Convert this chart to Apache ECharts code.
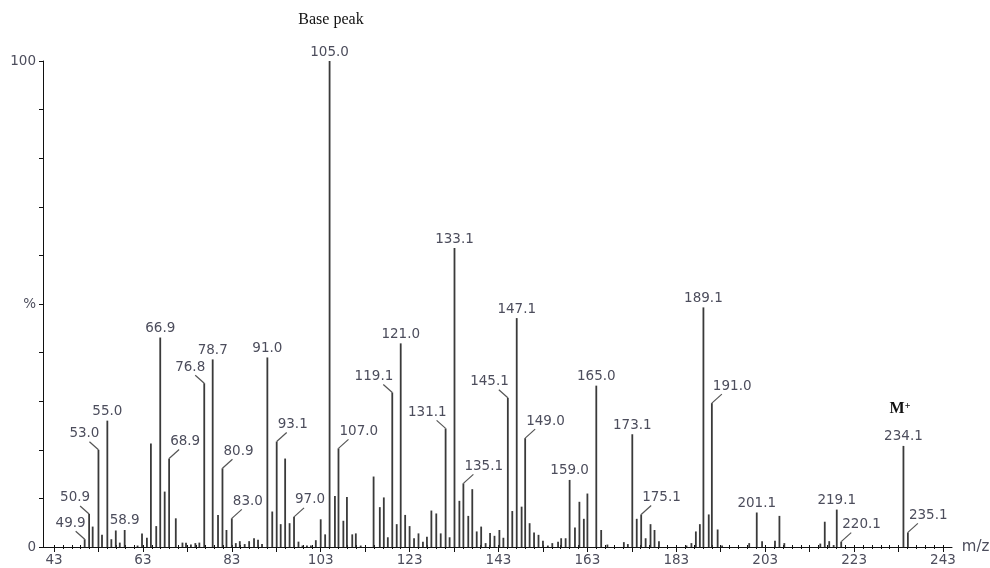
<!DOCTYPE html>
<html>
<head>
<meta charset="utf-8">
<script src="https://cdn.jsdelivr.net/npm/echarts@6/dist/echarts.min.js"></script>
<style>html,body{margin:0;padding:0;background:#fff}#c{width:990px;height:568px}</style>
</head>
<body>
<div id="c"></div>
<script>
// m/z positions of peaks
const peakMz = [49.9,50.9,51.7,53.0,53.8,55.0,55.9,56.9,57.8,58.9,61.8,62.8,63.9,64.8,66.0,66.9,67.9,68.9,70.4,71.9,72.7,73.8,74.8,75.7,76.8,78.7,79.9,80.9,81.8,83.0,83.9,84.8,85.9,86.9,88.0,88.9,89.8,91.0,92.1,93.1,94.0,95.0,96.0,97.0,98.0,98.9,99.9,100.8,101.9,103.0,104.0,105.0,106.2,107.0,108.1,108.9,110.1,110.9,112.0,114.9,116.3,117.2,118.1,119.1,120.1,121.0,122.0,123.0,124.0,125.0,126.0,126.9,127.9,129.0,130.0,131.1,132.0,133.1,134.2,135.1,136.2,137.1,138.1,139.1,140.1,141.1,142.1,143.2,144.1,145.1,146.1,147.1,148.2,149.0,150.0,151.0,152.0,153.0,154.1,155.1,156.4,157.1,158.1,159.0,160.2,161.2,162.2,163.0,165.0,166.1,167.5,171.2,172.1,173.1,174.1,175.1,176.1,177.2,178.1,179.1,185.3,186.4,187.4,188.3,189.1,190.3,191.0,192.3,193.3,199.4,201.1,202.3,205.2,206.2,207.3,215.4,216.4,217.4,218.4,219.1,220.1,234.1,235.1];
// relative intensities (%)
const peakInt = [1.6,6.8,4.2,20.0,2.5,26.0,1.6,3.4,0.9,3.5,0.3,2.8,1.9,21.3,4.3,43.1,11.4,18.2,5.9,0.9,0.9,0.5,0.8,0.9,33.7,38.6,6.6,16.2,3.5,5.9,0.8,1.2,0.6,1.2,1.8,1.5,0.6,39.0,7.3,21.7,4.7,18.2,4.9,6.2,1.1,0.3,0.3,0.3,1.4,5.7,2.6,100,10.5,20.3,5.4,10.3,2.6,2.8,0.3,14.5,8.2,10.2,2.0,31.8,4.7,41.9,6.6,4.3,1.8,2.8,1.1,2.1,7.5,6.9,2.8,24.4,2.0,61.5,9.5,13.1,6.4,11.9,3.2,4.2,0.8,2.9,2.3,3.5,1.9,30.7,7.4,47.1,8.3,22.4,4.9,3.0,2.5,1.3,0.3,0.8,1.1,1.8,1.8,13.8,4.0,9.3,5.8,11.0,33.2,3.5,0.5,1.0,0.6,23.2,5.8,6.7,1.8,4.7,3.5,1.2,0.3,0.8,3.2,4.7,49.3,6.7,29.6,3.6,0.3,0.8,7.1,1.2,1.3,6.4,0.8,0.7,5.2,1.2,0.4,7.7,1.1,20.8,3.0];
// labelled peaks
const labelMz   = [49.9,50.9,53.0,55.0,58.9,66.9,68.9,76.8,78.7,80.9,83.0,91.0,93.1,97.0,105.0,107.0,119.1,121.0,131.1,133.1,135.1,145.1,147.1,149.0,159.0,165.0,173.1,175.1,189.1,191.0,201.1,219.1,220.1,234.1,235.1];
const labelText = ['49.9','50.9','53.0','55.0','58.9','66.9','68.9','76.8','78.7','80.9','83.0','91.0','93.1','97.0','105.0','107.0','119.1','121.0','131.1','133.1','135.1','145.1','147.1','149.0','159.0','165.0','173.1','175.1','189.1','191.0','201.1','219.1','220.1','234.1','235.1'];
const labelSide = ['L','L','L','C','C','C','R','L','C','R','R','C','R','R','C','R','L','C','L','C','R','L','C','R','C','C','C','R','C','R','C','C','R','C','R'];
// axis ticks
const xLabelValues = [43,63,83,103,123,143,163,183,203,223,243];
const xMajorTicks = [43,53,63,73,83,93,103,113,123,133,143,153,163,173,183,193,203,213,223,233,243];
const xMinorTicks = [];
for (let v = 43; v <= 243; v += 2) xMinorTicks.push(v);

const data = peakMz.map((m, i) => [m, peakInt[i]]);
const FONT = '13.5px "DejaVu Sans", sans-serif';
const TXT = '#4c4d5c';

function renderItem(params, api) {
  const mz = api.value(0), v = api.value(1);
  const p0 = api.coord([mz, 0]);
  const p1 = api.coord([mz, v]);
  const children = [{
    type: 'line',
    shape: {x1: p0[0], y1: p0[1], x2: p1[0], y2: p1[1]},
    style: {stroke: '#3a3a3a', lineWidth: 1.8}
  }];
  const li = labelMz.indexOf(mz);
  if (li >= 0) {
    const side = labelSide[li];
    const t = labelText[li];
    if (side === 'C') {
      children.push({type: 'text', style: {text: t, x: p1[0], y: p1[1] - 2, textAlign: 'center', align: 'center', textVerticalAlign: 'bottom', verticalAlign: 'bottom', fill: TXT, font: FONT}});
    } else if (side === 'L') {
      children.push({type: 'line', shape: {x1: p1[0], y1: p1[1], x2: p1[0] - 9, y2: p1[1] - 8}, style: {stroke: '#555', lineWidth: 1.2}});
      children.push({type: 'text', style: {text: t, x: p1[0] + 1, y: p1[1] - 9, textAlign: 'right', align: 'right', textVerticalAlign: 'bottom', verticalAlign: 'bottom', fill: TXT, font: FONT}});
    } else {
      children.push({type: 'line', shape: {x1: p1[0], y1: p1[1], x2: p1[0] + 10, y2: p1[1] - 9}, style: {stroke: '#555', lineWidth: 1.2}});
      children.push({type: 'text', style: {text: t, x: p1[0] + 1, y: p1[1] - 10, textAlign: 'left', align: 'left', textVerticalAlign: 'bottom', verticalAlign: 'bottom', fill: TXT, font: FONT}});
    }
  }
  return {type: 'group', children: children};
}

const chart = echarts.init(document.getElementById('c'), null, {renderer: 'canvas'});
const XMIN = 40.525, XMAX = 245.025;
chart.setOption({
  animation: false,
  backgroundColor: '#fff',
  grid: {left: 43, right: 38, top: 61, bottom: 21, containLabel: false, outerBoundsMode: 'none'},
  xAxis: [{
    type: 'value', min: XMIN, max: XMAX, position: 'bottom',
    name: 'm/z', nameLocation: 'end', nameGap: 6,
    nameTextStyle: {color: TXT, fontFamily: 'DejaVu Sans', fontSize: 15, verticalAlign: 'middle'},
    axisLine: {show: true, lineStyle: {color: '#111', width: 1}},
    axisTick: {show: true, customValues: xMajorTicks, length: 5, inside: false, lineStyle: {color: '#111'}},
    axisLabel: {show: true, customValues: xLabelValues, margin: 6, color: TXT, fontFamily: 'DejaVu Sans', fontSize: 13.5},
    splitLine: {show: false}
  }, {
    type: 'value', min: XMIN, max: XMAX, position: 'bottom', gridIndex: 0,
    axisLine: {show: false},
    axisTick: {show: true, customValues: xMinorTicks, length: 2, inside: true, lineStyle: {color: '#111'}},
    axisLabel: {show: false}, splitLine: {show: false}
  }, {
    type: 'value', min: XMIN, max: XMAX, position: 'bottom', gridIndex: 0,
    axisLine: {show: false},
    axisTick: {show: true, customValues: xMinorTicks, length: 2, inside: false, lineStyle: {color: '#111'}},
    axisLabel: {show: false}, splitLine: {show: false}
  }],
  yAxis: {
    type: 'value', min: 0, max: 100, interval: 10,
    axisLine: {show: true, lineStyle: {color: '#111', width: 1}},
    axisTick: {show: true, length: 4, inside: false, lineStyle: {color: '#111'}},
    axisLabel: {
      margin: 7, color: TXT, fontFamily: 'DejaVu Sans', fontSize: 13.5,
      formatter: v => v === 0 ? '0' : v === 50 ? '%' : v === 100 ? '100' : ''
    },
    splitLine: {show: false}
  },
  graphic: [
    {type: 'text', x: 331, y: 20, style: {text: 'Base peak', font: '16px "Liberation Serif", serif', fill: '#111', textAlign: 'center', align: 'center', textVerticalAlign: 'middle', verticalAlign: 'middle'}},
    {type: 'text', x: 900, y: 409, style: {
      text: '{m|M}{p|+}', align: 'center', textAlign: 'center', verticalAlign: 'middle', textVerticalAlign: 'middle',
      rich: {m: {font: 'bold 16px "Liberation Serif", serif', fill: '#111', color: '#111'}, p: {font: 'bold 10px "Liberation Serif", serif', fill: '#111', color: '#111', verticalAlign: 'top', padding: [0, 0, 6, 0]}}
    }}
  ],
  series: [{
    type: 'custom',
    xAxisIndex: 0, yAxisIndex: 0,
    renderItem: renderItem,
    encode: {x: 0, y: 1},
    data: data,
    clip: false
  }]
});
</script>
</body>
</html>
